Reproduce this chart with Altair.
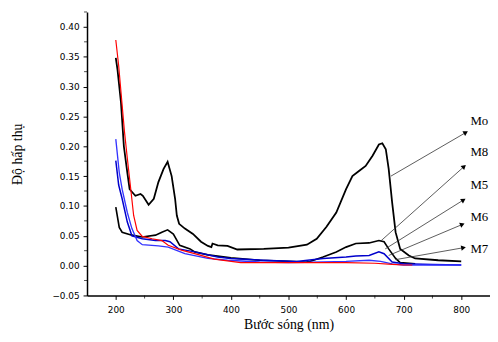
import altair as alt
import pandas as pd
import math

# ---- data ----
mo_nm = [200,203,209,214,220,224,234,243,247,257,266,274,283,290,297,303,306,310,320,334,348,360,366,368,377,394,411,457,500,532,549,566,583,600,611,623,634,646,657,663,669,674,680,686,694,709,720,760,800]
mo_val = [0.348,0.328,0.273,0.200,0.156,0.128,0.117,0.120,0.117,0.102,0.112,0.140,0.162,0.174,0.150,0.112,0.084,0.070,0.062,0.053,0.040,0.033,0.031,0.037,0.034,0.033,0.027,0.028,0.030,0.035,0.045,0.065,0.089,0.128,0.150,0.159,0.167,0.184,0.203,0.205,0.195,0.162,0.106,0.056,0.028,0.017,0.012,0.009,0.007]

m8_nm = [200,206,211,228,246,269,280,290,300,311,329,337,360,400,450,500,530,537,560,583,600,617,640,657,666,674,686,694,720]
m8_val = [0.098,0.064,0.056,0.051,0.048,0.051,0.056,0.060,0.053,0.034,0.028,0.023,0.018,0.013,0.009,0.007,0.006,0.007,0.0145,0.023,0.031,0.037,0.038,0.042,0.040,0.028,0.012,0.005,0.003]

m5_nm = [200,205,211,220,228,246,269,286,294,309,337,377,400,457,514,560,600,617,640,657,666,680,700,750,800]
m5_val = [0.176,0.135,0.112,0.073,0.050,0.045,0.042,0.042,0.040,0.028,0.023,0.0145,0.012,0.009,0.007,0.012,0.0145,0.016,0.017,0.023,0.020,0.006,0.003,0.002,0.001]

m6_nm = [200,206,211,220,228,237,246,274,291,320,360,394,450,500,560,600,640,660,680,700,750,800]
m6_val = [0.212,0.156,0.128,0.089,0.062,0.042,0.035,0.033,0.031,0.020,0.012,0.009,0.006,0.005,0.006,0.007,0.009,0.007,0.003,0.001,0.001,0.001]

m7_nm = [200,205,210,215,220,226,231,237,246,263,280,291,314,337,371,417,500,600,650,680,700,715]
m7_val = [0.378,0.335,0.280,0.225,0.180,0.128,0.084,0.059,0.049,0.045,0.042,0.034,0.026,0.020,0.011,0.005,0.005,0.005,0.004,0.002,0.001,0.001]

labels = ["Mo", "M8", "M5", "M6", "M7"]
colors = ["#000000", "#000000", "#0000cc", "#3333ff", "#ff0000"]
widths = [1.8, 1.2, 1.2, 1.0, 1.2]

arrow_x1 = [678, 660, 668, 674, 686]
arrow_y1 = [0.150, 0.041, 0.028, 0.017, 0.010]
arrow_x2 = [808, 805, 804, 802, 804]
arrow_y2 = [0.223, 0.166, 0.110, 0.069, 0.030]
label_x = [816, 816, 816, 816, 816]
label_y = [0.243, 0.190, 0.135, 0.082, 0.028]

x_ticks = [200, 300, 400, 500, 600, 700, 800]
x_minor = [250, 350, 450, 550, 650, 750]
y_ticks = [-0.05, 0.0, 0.05, 0.10, 0.15, 0.20, 0.25, 0.30, 0.35, 0.40]
y_minor = [-0.025, 0.025, 0.075, 0.125, 0.175, 0.225, 0.275, 0.325, 0.375, 0.425]

X_DOM = [150, 850]
Y_DOM = [-0.05, 0.425]
W, H = 408, 287

series = [mo_nm, m8_nm, m5_nm, m6_nm, m7_nm]
vals = [mo_val, m8_val, m5_val, m6_val, m7_val]
rows = []
for name, xs_, ys_ in zip(labels, series, vals):
    for i, (a, b) in enumerate(zip(xs_, ys_)):
        rows.append({"s": name, "nm": a, "v": b, "o": i})
df = pd.DataFrame(rows)

# arrow head angles (pixel direction)
angs = []
for x1, y1, x2, y2 in zip(arrow_x1, arrow_y1, arrow_x2, arrow_y2):
    dx = (x2 - x1) * W / (X_DOM[1] - X_DOM[0])
    dy = -(y2 - y1) * H / (Y_DOM[1] - Y_DOM[0])
    a = math.degrees(math.atan2(dy, dx)) % 360
    angs.append(a)
arr = pd.DataFrame({"x1": arrow_x1, "y1": arrow_y1, "x2": arrow_x2, "y2": arrow_y2,
                    "ang": angs, "lab": labels, "lx": label_x, "ly": label_y})

xs = alt.Scale(domain=X_DOM, nice=False, zero=False)
ys = alt.Scale(domain=Y_DOM, nice=False, zero=False)

x_axis = alt.Axis(values=x_ticks, format="d", title="Bước sóng (nm)", grid=False,
                  tickSize=4, labelFont="DejaVu Sans", labelFontSize=9, labelPadding=6,
                  titleFont="Liberation Serif", titleFontSize=14, titleFontWeight="normal",
                  titlePadding=3, domainColor="black", tickColor="black", labelColor="black",
                  titleColor="black")
y_axis = alt.Axis(values=y_ticks, format=".2f", title="Độ hấp thụ", grid=False,
                  tickSize=4, labelFont="DejaVu Sans", labelFontSize=9, labelPadding=4,
                  titleFont="Liberation Serif", titleFontSize=14, titleFontWeight="normal",
                  titlePadding=28, domainColor="black", tickColor="black", labelColor="black",
                  titleColor="black")

lines = alt.Chart(df).mark_line(clip=True).encode(
    x=alt.X("nm:Q", scale=xs, axis=x_axis),
    y=alt.Y("v:Q", scale=ys, axis=y_axis),
    detail="s:N",
    order="o:Q",
    color=alt.Color("s:N", scale=alt.Scale(domain=labels, range=colors), legend=None),
    strokeWidth=alt.StrokeWidth("s:N", scale=alt.Scale(domain=labels, range=widths), legend=None),
)

minor_x = alt.Chart(pd.DataFrame({"nm": x_minor})).mark_tick(color="black", orient="vertical", size=3, thickness=1).encode(
    x=alt.X("nm:Q", scale=xs, axis=x_axis), y=alt.value(H + 1.5))
minor_y = alt.Chart(pd.DataFrame({"v": y_minor})).mark_tick(color="black", orient="horizontal", size=3, thickness=1).encode(
    y=alt.Y("v:Q", scale=ys, axis=y_axis), x=alt.value(-1.5))

rules = alt.Chart(arr).mark_rule(color="#333333", strokeWidth=0.8).encode(
    x=alt.X("x1:Q", scale=xs, axis=x_axis), y=alt.Y("y1:Q", scale=ys, axis=y_axis), x2="x2:Q", y2="y2:Q")
heads = alt.Chart(arr).mark_point(shape="triangle-right", filled=True, color="black", size=30, opacity=1).encode(
    x=alt.X("x2:Q", scale=xs, axis=x_axis), y=alt.Y("y2:Q", scale=ys, axis=y_axis), angle=alt.Angle("ang:Q", scale=None))
texts = alt.Chart(arr).mark_text(font="Liberation Serif", fontSize=13, align="left", baseline="middle", color="black").encode(
    x=alt.X("lx:Q", scale=xs, axis=x_axis), y=alt.Y("ly:Q", scale=ys, axis=y_axis), text="lab:N")

chart = alt.layer(lines, minor_x, minor_y, rules, heads, texts).properties(
    width=W, height=H,
    autosize=alt.AutoSizeParams(type="none"),
    padding={"left": 80, "top": 2, "right": 0, "bottom": 37},
).configure_view(stroke=None).configure_axis(domainWidth=1.5)

chart.save("out.html", embed_options={"renderer": "svg", "actions": False})
